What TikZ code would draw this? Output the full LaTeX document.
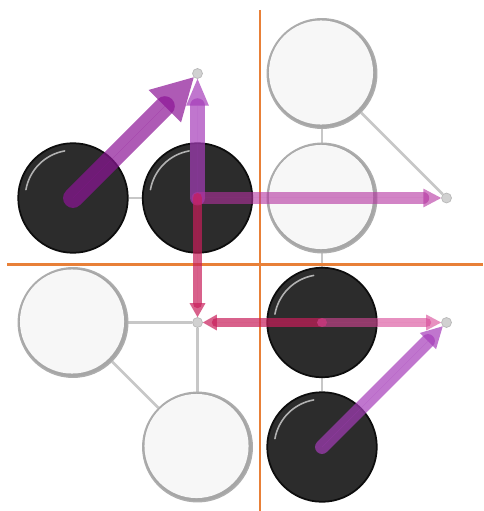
\documentclass[tikz,border=0pt]{standalone}
\usetikzlibrary{arrows.meta, backgrounds}

\definecolor{stoneblack}{RGB}{44,44,44}
\definecolor{gridorange}{RGB}{232,128,56}
\definecolor{movepurple}{RGB}{140,20,150}
\definecolor{moveviolet}{RGB}{165,60,185}
\definecolor{movepink}{RGB}{180,50,160}
\definecolor{movered}{RGB}{200,30,90}
\definecolor{movelightpink}{RGB}{215,70,150}

\begin{document}
\begin{tikzpicture}[
		blackstone/.style={circle, minimum size=2.2cm, inner sep=0pt, fill=stoneblack, draw=black!95, line width=1pt,
			path picture={\draw[white!70!black, line width=0.9pt, line cap=round]
				([shift={(100:0.96)}]path picture bounding box.center) arc (100:170:0.96);}},
		whitestone/.style={circle, minimum size=2.2cm, inner sep=0pt, fill=black!35, draw=black!32, line width=0.8pt,
			path picture={\fill[black!3] ([shift={(-0.02,0.02)}]path picture bounding box.center) circle (1.045);}},
		point/.style={circle, minimum size=0.2cm, inner sep=0pt, fill=black!18, draw=black!28, line width=0.4pt},
		link/.style={draw=black!22, line width=1.6pt},
		divider/.style={draw=gridorange, line width=1.4pt},
		move/.style={opacity=0.7, line cap=round},
		bigmove/.style={move, draw=movepurple, fill=movepurple, line width=0.40cm, -{Triangle[width=0.92cm, length=0.82cm, line width=0pt]}},
		upmove/.style={move, draw=moveviolet, fill=moveviolet, line width=0.30cm, -{Triangle[width=0.46cm, length=0.54cm, line width=0pt]}},
		sidemove/.style={move, opacity=0.6, draw=movepink, fill=movepink, line width=0.24cm, -{Triangle[width=0.38cm, length=0.36cm, line width=0pt]}},
		redmove/.style={move, draw=movered, fill=movered, line width=0.20cm, -{Triangle[width=0.32cm, length=0.28cm, line width=0pt]}},
		pinkmove/.style={move, opacity=0.6, draw=movelightpink, fill=movelightpink, line width=0.20cm, -{Triangle[width=0.32cm, length=0.30cm, line width=0pt]}},
		diagmove/.style={move, draw=moveviolet, fill=moveviolet, line width=0.28cm, -{Triangle[width=0.46cm, length=0.42cm, line width=0pt]}}
		]
		\useasboundingbox (-1.466,-1.285) rectangle (8.233,8.976);
		
		% 1. Quadrant dividers
		\draw[divider] (3.75,8.775) -- (3.75,-1.285);
		\draw[divider] (-1.325,3.669) -- (8.233,3.669);
		
		% 2. Stones
		\node[blackstone] (b1) at (0,5) {};
		\node[blackstone] (b2) at (2.5,5) {};
		\node[whitestone] (w1) at (5,7.5) {};
		\node[whitestone] (w2) at (5,5) {};
		\node[whitestone] (w3) at (0,2.5) {};
		\node[whitestone] (w4) at (2.5,0) {};
		\node[blackstone] (b3) at (5,2.5) {};
		\node[blackstone] (b4) at (5,0) {};
		
		% Empty points
		\node[point] (p1) at (2.5,7.5) {};
		\node[point] (p2) at (7.5,5) {};
		\node[point] (p3) at (2.5,2.5) {};
		\node[point] (p4) at (7.5,2.5) {};
		
		% 3. Links behind the stones
		\begin{scope}[on background layer]
			\draw[link] (b1) -- (b2);
			\draw[link] (w1) -- (w2);
			\draw[link] (w1) -- (p2);
			\draw[link] (w2) -- (b3);
			\draw[link] (b3) -- (b4);
			\draw[link] (w3) -- (p3);
			\draw[link] (p3) -- (w4);
			\draw[link] (w3) -- (w4);
		\end{scope}
		
		% 4. Moves
		\draw[bigmove] (b1.center) -- (p1);
		\draw[upmove] (b2.center) -- (p1);
		\draw[sidemove] (b2.center) -- (p2);
		\draw[redmove] (b2.center) -- (p3);
		\draw[redmove] (b3.center) -- (p3);
		\draw[pinkmove] (b3.center) -- (p4);
		\draw[diagmove] (b4.center) -- (p4);
		
	\end{tikzpicture}
\end{document}
